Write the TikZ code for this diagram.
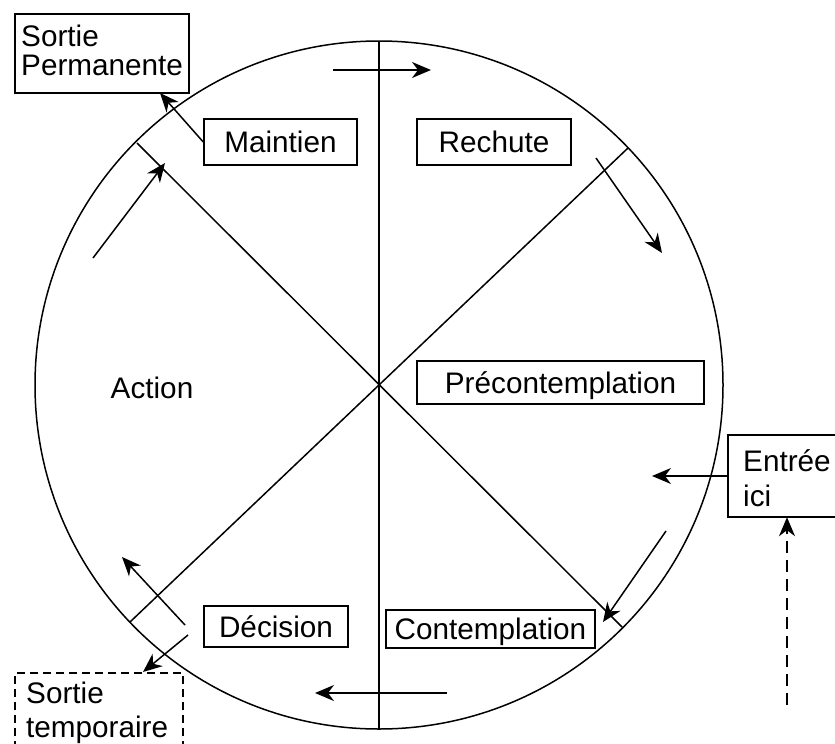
\documentclass[tikz,border=0pt]{standalone}
\usepackage{fontspec}
\setmainfont{Liberation Sans}
\usetikzlibrary{arrows.meta}

\begin{document}
\begin{tikzpicture}[x=1pt,y=-1pt,
  stroke/.style={line width=1.5pt},
  box/.style={draw, line width=1.5pt, inner sep=0pt, text height=21.5pt, text depth=0pt,
              font=\fontsize{29.7pt}{28.5pt}\selectfont},
  frame/.style={draw, line width=1.5pt, inner sep=0pt},
  txt/.style={inner sep=0pt, align=left, anchor=north west},
  arr/.style={line width=1.5pt, -{Stealth[length=19pt,width=16pt,inset=6pt]}},
  dasharr/.style={arr, dash pattern=on 12pt off 7pt},
]
\useasboundingbox (0,0) rectangle (835,744);

% wheel: circle, vertical axis and the two diagonals
\coordinate (O) at (379,385);
\draw[stroke] (O) circle[radius=344pt];
\coordinate (T) at (379,41);
\coordinate (B) at (379,729);
\coordinate (NW) at (137,143);
\coordinate (SE) at (622,627);
\coordinate (NE) at (628,148);
\coordinate (SW) at (130,622);
\draw[line width=2pt] (T) -- (B);
\draw[stroke] (NW) -- (SE);
\draw[stroke] (NE) -- (SW);

% stage boxes
\node[box, minimum width=153pt, minimum height=46pt] (maint) at (280.5,142) {Maintien};
\node[box, minimum width=154pt, minimum height=46pt] (rech) at (494,142) {Rechute};
\node[box, minimum width=287pt, minimum height=43pt] (precon) at (560.5,382.5) {Précontemplation};
\node[box, minimum width=144pt, minimum height=41pt] (decis) at (276,626.5) {Décision};
\node[box, minimum width=209pt, minimum height=38pt] (contemp) at (490.5,629) {Contemplation};
\node[inner sep=0pt, anchor=base, font=\fontsize{29.7pt}{28.5pt}\selectfont] (action) at (152,398) {Action};

% exit / entry boxes
\node[frame, minimum width=174pt, minimum height=79pt] (perm) at (102,53.5) {};
\node[txt, font=\fontsize{29.7pt}{28.5pt}\selectfont] (permtxt) at (21,25) {Sortie\\Permanente};

% entry box runs past the right border: only three sides are drawn
\node[inner sep=0pt, minimum width=120pt, minimum height=82pt] (entree) at (788,476) {};
\draw[stroke] (entree.north east) -- (entree.north west) -- (entree.south west) -- (entree.south east);
\node[txt, font=\fontsize{29.7pt}{35pt}\selectfont] (entreetxt) at (743,449) {Entrée\\ici};

\node[frame, dash pattern=on 8pt off 5pt, minimum width=168pt, minimum height=90pt] (stemp) at (99,718) {};
\node[txt, font=\fontsize{29.7pt}{34pt}\selectfont] (stemptxt) at (26,682) {Sortie\\temporaire};

% arrows around the wheel
\coordinate (a1s) at (333,70);   \coordinate (a1e) at (431,70);
\coordinate (a2s) at (596,158);  \coordinate (a2e) at (662,253);
\coordinate (a3e) at (652,476);
\coordinate (a4s) at (787,705);
\coordinate (a5s) at (666,531);  \coordinate (a5e) at (603,622);
\coordinate (a6s) at (447,693);  \coordinate (a6e) at (315,693);
\coordinate (a7s) at (185,625);  \coordinate (a7e) at (122,557);
\coordinate (a8s) at (188,635);  \coordinate (a8e) at (143,672);
\coordinate (a9s) at (93,258);   \coordinate (a9e) at (165,163);
\coordinate (a10e) at (160,93);

\draw[arr] (a1s) -- (a1e);
\draw[arr] (a2s) -- (a2e);
\draw[arr] (entree.west) -- (a3e);
\draw[dasharr] (a4s) -- (a4s |- entree.south);
\draw[arr] (a5s) -- (a5e);
\draw[arr] (a6s) -- (a6e);
\draw[arr] (a7s) -- (a7e);
\draw[arr] (a8s) -- (a8e);
\draw[arr] (a9s) -- (a9e);
\draw[arr] (maint.west) -- (a10e);
\end{tikzpicture}
\end{document}
